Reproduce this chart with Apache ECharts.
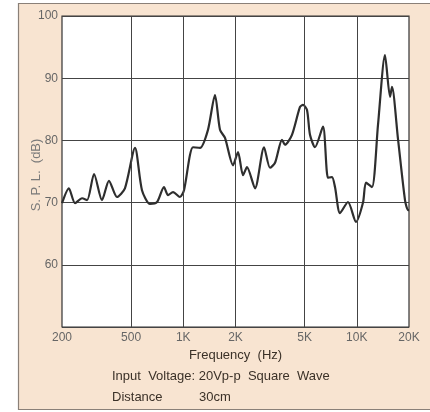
<!DOCTYPE html>
<html>
<head>
<meta charset="utf-8">
<script src="https://cdn.jsdelivr.net/npm/echarts@6/dist/echarts.min.js"></script>
<style>
html,body{margin:0;padding:0;background:#fff;}
#c{width:430px;height:412px;}
</style>
</head>
<body>
<div id="c"></div>
<script>
// Frequency response data
var freqHz = [200, 219, 238, 261, 279, 306, 340, 373, 415, 461, 527, 578, 643, 706, 774, 817, 873, 957, 1010,
  1138, 1249, 1388, 1523, 1628, 1740, 1935, 2068, 2210, 2330, 2592, 2920, 3162, 3380, 3707, 3858, 4232,
  4708, 4898, 5166, 5375, 5744, 6387, 6825, 7198, 7490, 8006, 8900, 9900, 10864, 11304, 12236, 13254,
  14544, 15544, 15960, 17288, 18966, 19734, 20000];
var splDb = [69.9, 72.3, 69.9, 70.7, 70.4, 74.6, 70.4, 73.5, 70.9, 72.3, 78.8, 72.0, 69.8, 70.1, 72.5, 71.2, 71.7, 70.9, 72.0,
  78.9, 78.8, 81.7, 87.3, 81.7, 80.4, 76.0, 78.1, 74.4, 75.7, 72.3, 78.9, 75.6,
  76.4, 80.1, 79.3, 80.9, 85.4, 85.7, 84.9, 80.9, 78.9, 82.2, 74.0, 74.1, 72.5, 68.3, 70.1, 66.9, 70.0, 73.2, 72.5, 82.5,
  93.7, 87.0, 88.6, 80.2, 70.4, 68.8, 68.8];
var xTicks = [200, 500, 1000, 2000, 5000, 10000, 20000];
var xTickLabels = ['200', '500', '1K', '2K', '5K', '10K', '20K'];
var gridFreqs = [500, 1000, 2000, 5000, 10000];
var yMin = 50, yMax = 100, yStep = 10;
var yAxisTitle = 'S. P. L.  (dB)';
var xAxisTitle = 'Frequency  (Hz)';
var note1 = 'Input  Voltage: 20Vp-p  Square  Wave';
var note2a = 'Distance';
var note2b = '30cm';

var pts = freqHz.map(function (f, i) { return [Math.log10(f), splDb[i]]; });
var txtColor = '#3b3128';
var font = 'Liberation Sans, Arial, Helvetica, sans-serif';

var chart = echarts.init(document.getElementById('c'), null, {renderer: 'canvas'});
chart.setOption({
  animation: false,
  backgroundColor: '#ffffff',
  graphic: [
    {type: 'rect', z: -10, shape: {x: 18.5, y: 3.5, width: 420, height: 406},
     style: {fill: '#f8e4d1', stroke: '#8a8078', lineWidth: 1.2}},
    {type: 'text', left: 112, top: 370, style: {text: note1, fill: txtColor, font: '13px ' + font}},
    {type: 'text', left: 112, top: 391, style: {text: note2a, fill: txtColor, font: '13px ' + font}},
    {type: 'text', left: 199, top: 391, style: {text: note2b, fill: txtColor, font: '13px ' + font}}
  ],
  grid: {left: 62, right: 21, top: 16, bottom: 85, show: true, backgroundColor: '#ffffff',
         borderColor: '#333', borderWidth: 1.2},
  xAxis: {
    type: 'value', min: Math.log10(200), max: Math.log10(20000),
    name: xAxisTitle, nameLocation: 'middle', nameGap: 22, nameMoveOverlap: false,
    nameTextStyle: {color: txtColor, fontSize: 13, fontFamily: font},
    axisLine: {show: false}, axisTick: {show: false}, splitLine: {show: false},
    axisLabel: {
      customValues: xTicks.map(function (f) { return Math.log10(f); }),
      color: '#666', fontSize: 12, fontFamily: font, margin: 5,
      formatter: function (v) {
        var best = 0, d = 1e9;
        xTicks.forEach(function (f, i) { var dd = Math.abs(Math.log10(f) - v); if (dd < d) { d = dd; best = i; } });
        return xTickLabels[best];
      }
    }
  },
  yAxis: {
    type: 'value', min: yMin, max: yMax, interval: yStep,
    name: yAxisTitle, nameLocation: 'middle', nameGap: 19, nameRotate: 90, nameMoveOverlap: false,
    nameTextStyle: {color: '#7a7a7a', fontSize: 13, fontFamily: font, padding: [0, 0, 0, -7]},
    axisLine: {show: false}, axisTick: {show: false},
    splitLine: {show: true, lineStyle: {color: '#444', width: 1}},
    axisLabel: {color: '#666', fontSize: 12, fontFamily: font, margin: 4,
      formatter: function (v) { return v === yMin ? '' : String(v); }}
  },
  series: [{
    type: 'line', data: pts, showSymbol: false, smooth: 0.25,
    lineStyle: {color: '#2e2e2e', width: 2.2},
    markLine: {
      silent: true, symbol: 'none', label: {show: false},
      lineStyle: {color: '#444', width: 1, type: 'solid'},
      data: gridFreqs.map(function (f) { return {xAxis: Math.log10(f)}; })
    }
  }]
});
</script>
</body>
</html>
